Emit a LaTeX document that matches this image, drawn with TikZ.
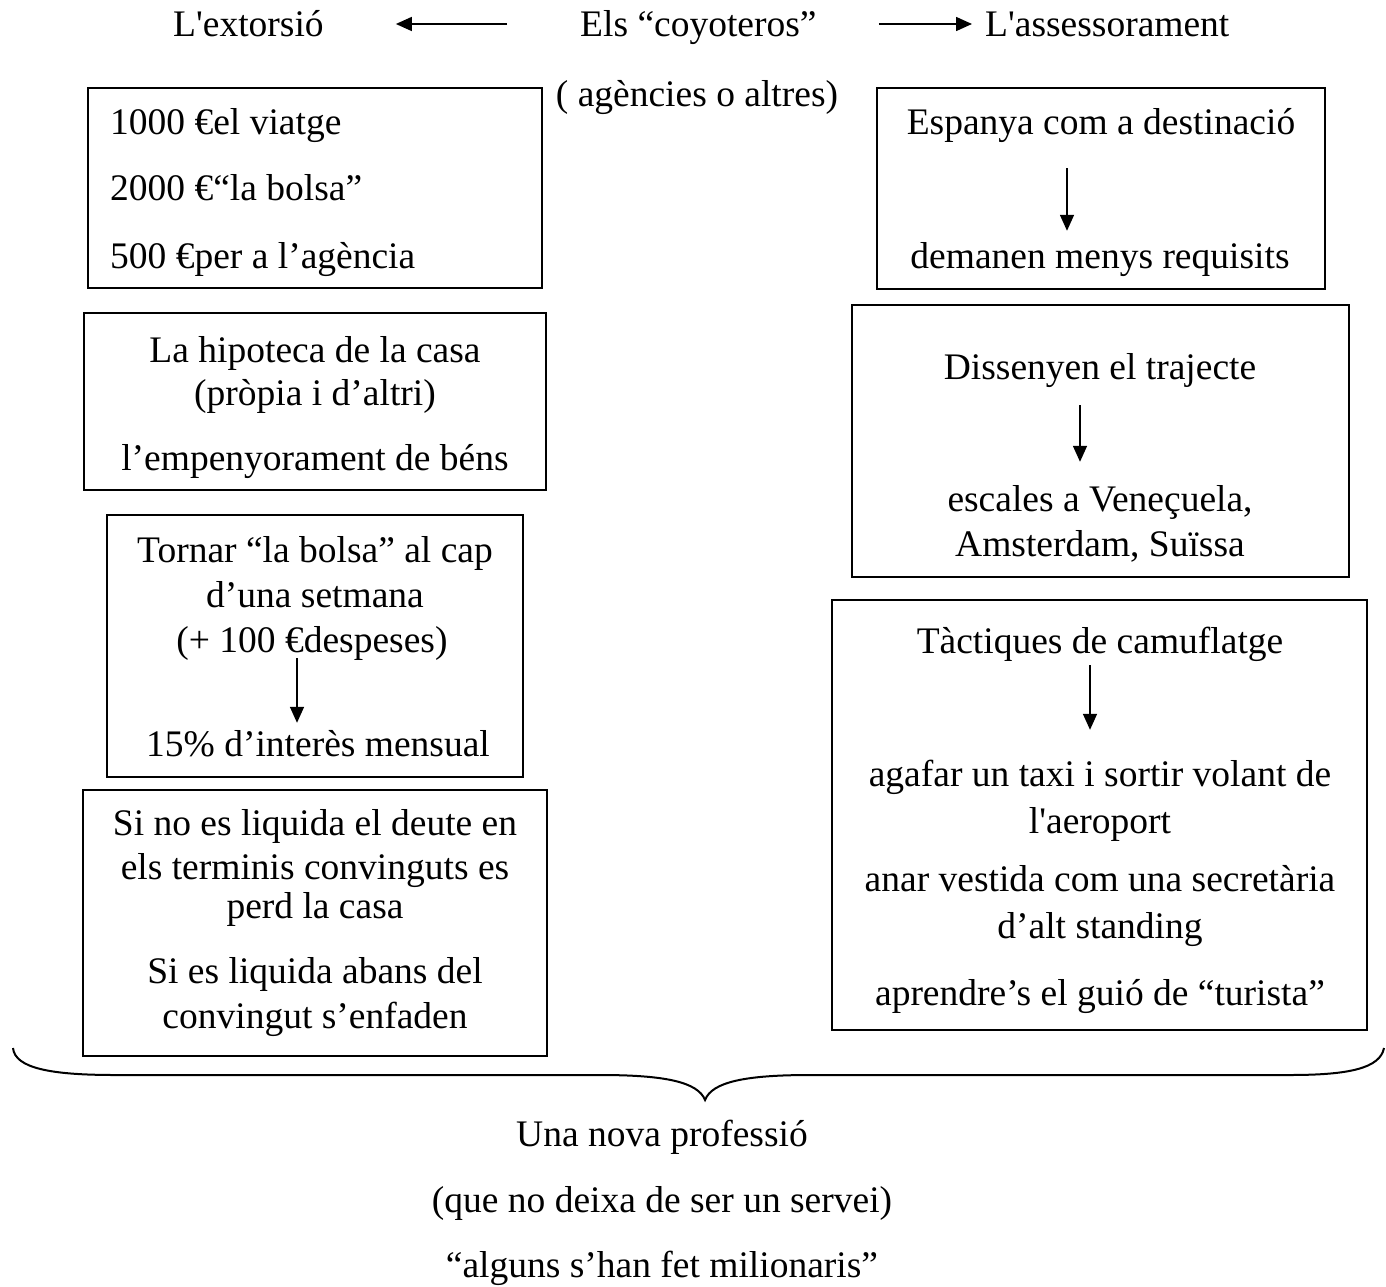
\documentclass[tikz,border=0pt]{standalone}
\usepackage{fontspec}
\setmainfont{Liberation Serif}[Ligatures=TeXOff]
\usetikzlibrary{arrows.meta,fit}

\begin{document}
\begin{tikzpicture}[x=1pt,y=-1pt,
  txt/.style={inner sep=0pt, anchor=base, text height=26pt, text depth=9pt,
              font=\fontsize{37.5}{45}\selectfont},
  txtl/.style={txt, anchor=base west},
  box/.style={draw, line width=2pt, inner sep=0pt},
  arr/.style={line width=1.6pt, -{Triangle[length=16pt,width=14pt]}},
  brace/.style={line width=2pt}]

\useasboundingbox (0,0) rectangle (1386,1287);

% --- heading row ---
\node[txtl] (ext) at (173,37) {L'extorsió};
\node[txtl] (els) at (580,37) {Els “coyoteros”};
\node[txtl] (ass) at (985,37) {L'assessorament};
\node[txt]  (age) at (697,107) {( agències o altres)};

\draw[arr, shorten <=73pt, shorten >=72pt] ([yshift=4.5pt]els.west) -- ([yshift=4.5pt]ext.east);
\draw[arr, shorten <=62pt, shorten >=13pt] ([yshift=4.5pt]els.east) -- ([yshift=4.5pt]ass.west);

% --- left column: the extortion ---
\coordinate (b1a) at (88,88);   \coordinate (b1b) at (542,288);
\node[box, fit=(b1a)(b1b)] (box1) {};
\node[txtl] (l1a) at (110,135) {1000 €el viatge};
\node[txtl] (l1b) at (110,200) {2000 €“la bolsa”};
\node[txtl] (l1c) at (110,268) {500 €per a l’agència};

\coordinate (b2a) at (84,313);  \coordinate (b2b) at (546,490);
\node[box, fit=(b2a)(b2b)] (box2) {};
\node[txt] (l2a) at (315,362) {La hipoteca de la casa};
\node[txt] (l2b) at (315,405) {(pròpia i d’altri)};
\node[txt] (l2c) at (315,470) {l’empenyorament de béns};

\coordinate (b3a) at (107,515); \coordinate (b3b) at (523,777);
\node[box, fit=(b3a)(b3b)] (box3) {};
\node[txt] (l3a) at (315,562) {Tornar “la bolsa” al cap};
\node[txt] (l3b) at (315,607) {d’una setmana};
\node[txt] (l3c) at (312,652) {(+ 100 €despeses)};
\node[txt] (l3d) at (318,756) {15\% d’interès mensual};
\draw[arr] ([xshift=-15pt,yshift=3pt]l3c.south) -- ([xshift=-21pt,yshift=7pt]l3d.north);

\coordinate (b4a) at (83,790);  \coordinate (b4b) at (547,1056);
\node[box, fit=(b4a)(b4b)] (box4) {};
\node[txt] (l4a) at (315,835) {Si no es liquida el deute en};
\node[txt] (l4b) at (315,879) {els terminis convinguts es};
\node[txt] (l4c) at (315,918) {perd la casa};
\node[txt] (l4d) at (315,983) {Si es liquida abans del};
\node[txt] (l4e) at (315,1028) {convingut s’enfaden};

% --- right column: the advice ---
\coordinate (r1a) at (877,88);  \coordinate (r1b) at (1325,289);
\node[box, fit=(r1a)(r1b)] (rbox1) {};
\node[txt] (r1t) at (1101,135) {Espanya com a destinació};
\node[txt] (r1u) at (1100,268) {demanen menys requisits};
\draw[arr] ([xshift=-34pt,yshift=-24pt]r1t.south) -- ([xshift=-33pt,yshift=11pt]r1u.north);

\coordinate (r2a) at (852,305); \coordinate (r2b) at (1349,577);
\node[box, fit=(r2a)(r2b)] (rbox2) {};
\node[txt] (r2t) at (1100,379) {Dissenyen el trajecte};
\node[txt] (r2u) at (1100,511) {escales a Veneçuela,};
\node[txt] (r2v) at (1100,556) {Amsterdam, Suïssa};
\draw[arr] ([xshift=-20pt,yshift=-17pt]r2t.south) -- ([xshift=-20pt,yshift=23pt]r2u.north);

\coordinate (r3a) at (832,600); \coordinate (r3b) at (1367,1030);
\node[box, fit=(r3a)(r3b)] (rbox3) {};
\node[txt] (r3t) at (1100,653) {Tàctiques de camuflatge};
\node[txt] (r3u) at (1100,786) {agafar un taxi i sortir volant de};
\node[txt] (r3v) at (1100,833) {l'aeroport};
\node[txt] (r3w) at (1100,891) {anar vestida com una secretària};
\node[txt] (r3x) at (1100,938) {d’alt standing};
\node[txt] (r3y) at (1100,1005) {aprendre’s el guió de “turista”};
\draw[arr] ([xshift=-10pt,yshift=-3pt]r3t.south) -- ([xshift=-10pt,yshift=30pt]r3u.north);

% --- closing brace ---
\draw[brace] (13,1048) .. controls (15,1068) and (50,1075) .. (115,1075)
  -- (600,1075) .. controls (665,1075) and (698,1082) .. (705,1100)
  .. controls (712,1082) and (745,1075) .. (810,1075)
  -- (1290,1075) .. controls (1350,1075) and (1380,1068) .. (1384,1048);

% --- conclusion ---
\node[txt] (c1) at (662,1146) {Una nova professió};
\node[txt] (c2) at (662,1212) {(que no deixa de ser un servei)};
\node[txt] (c3) at (662,1277) {“alguns s’han fet milionaris”};

\end{tikzpicture}
\end{document}
